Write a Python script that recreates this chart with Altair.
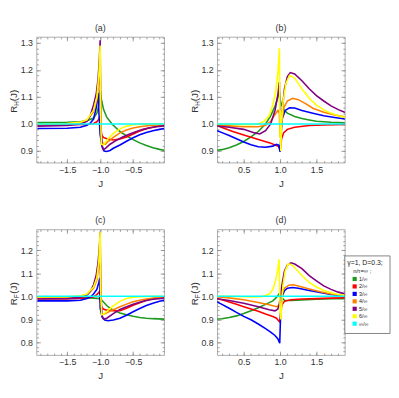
import altair as alt
import pandas as pd
import numpy as np

# ---------------- data ----------------
SERIES = ["1/∞", "2/∞", "3/∞", "4/∞", "5/∞", "6/∞", "∞/∞"]
COLORS = ["#1e9a1e", "#ff0000", "#0000ff", "#ff8000", "#800080", "#ffff00", "#00ffff"]
LEGEND_TITLE_1 = "γ=1, D=0.3;"
LEGEND_TITLE_2 = "n/τ=∞ ;"

# panel (a): R_H(J), J<0
a_green_j = [-1.95, -1.5, -1.3, -1.2, -1.1, -1.05, -1.02, -1.0, -0.98, -0.95, -0.9, -0.82, -0.7, -0.6, -0.5, -0.4, -0.3, -0.2, -0.1, -0.03]
a_green_r = [1.005, 1.006, 1.008, 1.012, 1.022, 1.04, 1.07, 1.125, 1.09, 1.055, 1.025, 1.0, 0.972, 0.956, 0.942, 0.93, 0.92, 0.912, 0.906, 0.903]
a_red_j = [-1.95, -1.5, -1.2, -1.1, -1.05, -1.02, -1.003, -0.995, -0.98, -0.95, -0.9, -0.8, -0.7, -0.6, -0.5, -0.4, -0.3, -0.2, -0.1, -0.03]
a_red_r = [0.997, 0.997, 0.998, 1.002, 1.008, 1.018, 1.028, 0.985, 0.96, 0.95, 0.945, 0.941, 0.944, 0.952, 0.963, 0.974, 0.982, 0.988, 0.993, 0.995]
a_blue_j = [-1.95, -1.5, -1.3, -1.2, -1.15, -1.1, -1.06, -1.04, -1.03, -1.02, -1.0, -0.97, -0.94, -0.9, -0.85, -0.8, -0.7, -0.6, -0.5, -0.4, -0.3, -0.2, -0.1, -0.03]
a_blue_r = [0.983, 0.984, 0.988, 0.995, 1.003, 1.018, 1.06, 1.1, 1.115, 1.05, 0.96, 0.915, 0.9, 0.898, 0.902, 0.91, 0.922, 0.936, 0.949, 0.96, 0.968, 0.975, 0.98, 0.983]
a_orange_j = [-1.95, -1.5, -1.3, -1.2, -1.1, -1.05, -1.02, -1.0, -0.99, -0.97, -0.95, -0.92, -0.88, -0.8, -0.7, -0.6, -0.5, -0.4, -0.25, -0.03]
a_orange_r = [1.0, 1.002, 1.006, 1.015, 1.045, 1.09, 1.15, 1.22, 1.0, 0.935, 0.925, 0.925, 0.935, 0.95, 0.967, 0.978, 0.985, 0.99, 0.994, 0.997]
a_purple_j = [-1.95, -1.5, -1.3, -1.2, -1.15, -1.1, -1.06, -1.03, -1.01, -1.0, -0.99, -0.97, -0.95, -0.92, -0.85, -0.75, -0.65, -0.55, -0.45, -0.35, -0.25, -0.15, -0.03]
a_purple_r = [0.992, 0.994, 1.0, 1.01, 1.03, 1.07, 1.11, 1.17, 1.25, 1.31, 1.0, 0.92, 0.905, 0.91, 0.925, 0.94, 0.953, 0.963, 0.972, 0.98, 0.986, 0.99, 0.993]
a_yellow_j = [-1.95, -1.5, -1.3, -1.2, -1.1, -1.05, -1.02, -1.0, -0.99, -0.98, -0.95, -0.9, -0.8, -0.7, -0.6, -0.5, -0.3, -0.03]
a_yellow_r = [1.0, 1.002, 1.006, 1.015, 1.05, 1.1, 1.18, 1.29, 1.0, 0.925, 0.922, 0.94, 0.965, 0.982, 0.992, 0.997, 1.0, 1.0]
a_cyan_j = [-1.95, -0.03]
a_cyan_r = [1.0, 1.0]

# panel (b): R_H(J), J>0
b_green_j = [0.12, 0.2, 0.3, 0.4, 0.5, 0.6, 0.7, 0.8, 0.87, 0.93, 0.97, 0.99, 1.0, 1.02, 1.06, 1.1, 1.2, 1.3, 1.4, 1.5, 1.7, 1.9]
b_green_r = [0.902, 0.905, 0.912, 0.922, 0.935, 0.952, 0.972, 1.0, 1.03, 1.065, 1.1, 1.12, 1.09, 1.07, 1.05, 1.04, 1.028, 1.02, 1.015, 1.01, 1.006, 1.004]
b_red_j = [0.12, 0.23, 0.35, 0.5, 0.68, 0.86, 0.98, 0.998, 1.005, 1.02, 1.05, 1.1, 1.2, 1.4, 1.6, 1.9]
b_red_r = [0.995, 0.984, 0.972, 0.959, 0.944, 0.93, 0.917, 0.905, 0.91, 0.945, 0.968, 0.98, 0.988, 0.994, 0.996, 0.998]
b_blue_j = [0.12, 0.2, 0.3, 0.4, 0.5, 0.6, 0.7, 0.8, 0.9, 0.95, 0.98, 1.0, 1.01, 1.03, 1.07, 1.13, 1.2, 1.3, 1.45, 1.6, 1.75, 1.9]
b_blue_r = [0.977, 0.968, 0.957, 0.945, 0.933, 0.923, 0.916, 0.914, 0.918, 0.925, 0.922, 0.897, 0.95, 1.02, 1.05, 1.06, 1.059, 1.05, 1.04, 1.03, 1.024, 1.018]
b_orange_j = [0.12, 0.3, 0.5, 0.7, 0.8, 0.87, 0.93, 0.97, 0.99, 1.0, 1.02, 1.05, 1.1, 1.17, 1.25, 1.35, 1.45, 1.6, 1.75, 1.9]
b_orange_r = [0.995, 0.993, 0.99, 0.99, 0.995, 1.01, 1.035, 1.05, 1.04, 0.95, 1.0, 1.06, 1.085, 1.095, 1.09, 1.075, 1.058, 1.043, 1.033, 1.026]
b_purple_j = [0.12, 0.3, 0.5, 0.65, 0.72, 0.8, 0.87, 0.93, 0.97, 0.99, 1.0, 1.01, 1.03, 1.06, 1.1, 1.14, 1.2, 1.3, 1.4, 1.5, 1.6, 1.7, 1.8, 1.9]
b_purple_r = [0.993, 0.988, 0.98, 0.967, 0.963, 0.975, 1.0, 1.05, 1.11, 1.155, 1.0, 0.96, 1.05, 1.13, 1.175, 1.19, 1.185, 1.16, 1.13, 1.105, 1.085, 1.067, 1.053, 1.042]
b_yellow_j = [0.12, 0.4, 0.6, 0.7, 0.78, 0.85, 0.9, 0.94, 0.97, 0.99, 0.995, 1.0, 1.005, 1.01, 1.02, 1.04, 1.08, 1.13, 1.2, 1.3, 1.4, 1.5, 1.6, 1.7, 1.8, 1.9]
b_yellow_r = [1.0, 0.998, 0.997, 1.0, 1.01, 1.03, 1.07, 1.12, 1.19, 1.28, 1.1, 0.95, 1.05, 0.9, 1.0, 1.08, 1.15, 1.18, 1.17, 1.13, 1.095, 1.07, 1.052, 1.04, 1.03, 1.024]
b_cyan_j = [0.12, 1.9]
b_cyan_r = [1.0, 1.0]

# panel (c): R_F(J), J<0
c_green_j = [-1.95, -1.5, -1.2, -1.1, -1.0, -0.95, -0.9, -0.85, -0.8, -0.7, -0.6, -0.5, -0.4, -0.3, -0.2, -0.03]
c_green_r = [0.997, 0.996, 0.994, 0.992, 0.99, 0.975, 0.96, 0.948, 0.94, 0.928, 0.92, 0.913, 0.908, 0.905, 0.903, 0.901]
c_red_j = [-1.95, -1.5, -1.2, -1.1, -1.05, -1.02, -1.005, -1.0, -0.98, -0.95, -0.9, -0.8, -0.7, -0.6, -0.5, -0.4, -0.3, -0.2, -0.03]
c_red_r = [0.99, 0.99, 0.992, 0.998, 1.007, 1.017, 1.022, 0.98, 0.955, 0.945, 0.94, 0.937, 0.937, 0.948, 0.961, 0.972, 0.983, 0.99, 0.996]
c_blue_j = [-1.95, -1.5, -1.3, -1.2, -1.15, -1.1, -1.05, -1.02, -1.005, -1.0, -0.97, -0.93, -0.88, -0.8, -0.7, -0.6, -0.5, -0.4, -0.3, -0.2, -0.1, -0.03]
c_blue_r = [0.98, 0.98, 0.983, 0.99, 0.997, 1.01, 1.03, 1.06, 1.08, 0.95, 0.91, 0.897, 0.894, 0.897, 0.905, 0.918, 0.933, 0.947, 0.96, 0.97, 0.978, 0.983]
c_orange_j = [-1.95, -1.5, -1.3, -1.2, -1.1, -1.05, -1.02, -1.0, -0.99, -0.97, -0.95, -0.9, -0.8, -0.7, -0.6, -0.5, -0.4, -0.3, -0.15, -0.03]
c_orange_r = [0.995, 0.996, 1.0, 1.008, 1.035, 1.07, 1.13, 1.2, 1.0, 0.925, 0.922, 0.928, 0.942, 0.955, 0.966, 0.976, 0.983, 0.988, 0.993, 0.995]
c_purple_j = [-1.95, -1.5, -1.3, -1.2, -1.15, -1.1, -1.06, -1.03, -1.01, -1.0, -0.99, -0.97, -0.95, -0.9, -0.8, -0.7, -0.6, -0.5, -0.4, -0.3, -0.2, -0.03]
c_purple_r = [0.988, 0.99, 0.995, 1.005, 1.02, 1.05, 1.09, 1.15, 1.22, 1.28, 1.0, 0.915, 0.901, 0.905, 0.925, 0.943, 0.955, 0.965, 0.974, 0.982, 0.987, 0.992]
c_yellow_j = [-1.95, -1.5, -1.3, -1.2, -1.1, -1.05, -1.02, -1.0, -0.99, -0.975, -0.95, -0.9, -0.8, -0.7, -0.6, -0.5, -0.3, -0.03]
c_yellow_r = [0.997, 0.998, 1.002, 1.01, 1.04, 1.08, 1.15, 1.28, 1.0, 0.92, 0.922, 0.935, 0.958, 0.978, 0.99, 0.996, 0.999, 1.0]
c_cyan_j = [-1.95, -0.03]
c_cyan_r = [1.0, 1.0]

# panel (d): R_F(J), J>0
d_green_j = [0.12, 0.2, 0.3, 0.4, 0.5, 0.6, 0.7, 0.8, 0.9, 0.95, 0.99, 1.0, 1.02, 1.06, 1.15, 1.3, 1.5, 1.7, 1.9]
d_green_r = [0.901, 0.903, 0.908, 0.915, 0.925, 0.937, 0.95, 0.965, 0.98, 0.995, 1.012, 1.01, 0.995, 0.983, 0.982, 0.984, 0.987, 0.989, 0.99]
d_red_j = [0.12, 0.2, 0.3, 0.4, 0.5, 0.6, 0.7, 0.8, 0.9, 0.95, 0.99, 1.0, 1.01, 1.03, 1.06, 1.15, 1.3, 1.5, 1.7, 1.9]
d_red_r = [0.99, 0.985, 0.975, 0.965, 0.955, 0.945, 0.935, 0.923, 0.912, 0.905, 0.89, 0.9, 0.94, 0.965, 0.978, 0.985, 0.988, 0.99, 0.992, 0.994]
d_blue_j = [0.12, 0.2, 0.3, 0.4, 0.5, 0.6, 0.7, 0.8, 0.87, 0.93, 0.97, 0.995, 1.0, 1.01, 1.03, 1.06, 1.1, 1.17, 1.25, 1.4, 1.55, 1.7, 1.9]
d_blue_r = [0.978, 0.965, 0.948, 0.93, 0.913, 0.898, 0.88, 0.86, 0.845, 0.83, 0.815, 0.797, 0.85, 0.95, 1.0, 1.025, 1.035, 1.038, 1.035, 1.025, 1.016, 1.008, 1.0]
d_orange_j = [0.12, 0.3, 0.5, 0.7, 0.85, 0.95, 0.99, 1.0, 1.02, 1.06, 1.12, 1.18, 1.25, 1.4, 1.55, 1.7, 1.9]
d_orange_r = [0.998, 0.993, 0.985, 0.973, 0.963, 0.955, 0.96, 0.98, 1.01, 1.035, 1.048, 1.05, 1.045, 1.032, 1.02, 1.01, 1.003]
d_purple_j = [0.12, 0.3, 0.5, 0.7, 0.85, 0.93, 0.97, 0.99, 1.0, 1.02, 1.06, 1.1, 1.15, 1.2, 1.3, 1.4, 1.5, 1.6, 1.7, 1.8, 1.9]
d_purple_r = [0.99, 0.982, 0.97, 0.955, 0.942, 0.937, 0.945, 0.97, 0.99, 1.04, 1.11, 1.135, 1.145, 1.14, 1.12, 1.09, 1.067, 1.045, 1.03, 1.018, 1.01]
d_yellow_j = [0.12, 0.4, 0.6, 0.75, 0.85, 0.9, 0.94, 0.97, 0.985, 0.99, 1.0, 1.01, 1.02, 1.04, 1.07, 1.11, 1.15, 1.2, 1.3, 1.4, 1.5, 1.6, 1.7, 1.8, 1.9]
d_yellow_r = [1.0, 0.999, 0.997, 0.998, 1.01, 1.03, 1.07, 1.12, 1.16, 1.1, 0.95, 0.9, 0.95, 1.05, 1.11, 1.14, 1.138, 1.125, 1.09, 1.06, 1.04, 1.025, 1.015, 1.008, 1.004]
d_cyan_j = [0.12, 1.9]
d_cyan_r = [1.0, 1.0]

# axis ticks
X_NEG_TICKS = [-1.5, -1.0, -0.5]
X_POS_TICKS = [0.5, 1.0, 1.5]
Y_TOP_TICKS = [0.9, 1.0, 1.1, 1.2, 1.3]
Y_BOT_TICKS = [0.8, 0.9, 1.0, 1.1, 1.2]

X_NEG_DOM = [-1.965, -0.03]
X_POS_DOM = [0.135, 1.89]
Y_TOP_DOM = [0.857, 1.322]
Y_BOT_DOM = [0.745, 1.29]


def build(prefix):
    g = globals()
    parts = []
    for name, lab in zip(["green", "red", "blue", "orange", "purple", "yellow", "cyan"], SERIES):
        js = g[f"{prefix}_{name}_j"]
        rs = g[f"{prefix}_{name}_r"]
        parts.append(pd.DataFrame({"J": js, "R": rs, "series": lab}))
    return pd.concat(parts, ignore_index=True)


def minor(dom, step):
    vals = np.round(np.arange(np.ceil(dom[0] / step) * step, dom[1] + 1e-9, step), 3)
    return [float(v) for v in vals if dom[0] <= v <= dom[1]]


W, H = 130, 128
FONT = "Liberation Sans"
TICK_COL = "#888888"
LAB_COL = "#333333"

color_scale = alt.Scale(domain=SERIES, range=COLORS)


def legend_layers():
    """Mathematica-style framed legend, drawn to the right of panel (d)."""
    one = pd.DataFrame({"k": [0]})
    ent = pd.DataFrame({"series": SERIES})
    box = alt.Chart(one).mark_rect(fill="white", stroke="#666666", strokeWidth=0.8).encode(
        x=alt.value(130), x2=alt.value(176), y=alt.value(27), y2=alt.value(106))
    t1 = alt.Chart(one).mark_text(text=LEGEND_TITLE_1, align="left", baseline="middle",
                                  fontSize=7, font=FONT, color="#222").encode(
        x=alt.value(132.5), y=alt.value(34.5))
    t2 = alt.Chart(one).mark_text(text=LEGEND_TITLE_2, align="left", baseline="middle",
                                  fontSize=6, font=FONT, color="#222").encode(
        x=alt.value(138.5), y=alt.value(42))
    ypos = alt.Y("series:N", sort=SERIES,
                 scale=alt.Scale(domain=SERIES, range=[50.5, 96], padding=0), axis=None)
    sq = alt.Chart(ent).mark_square(size=18, opacity=1, filled=True).encode(
        x=alt.value(140), y=ypos,
        color=alt.Color("series:N", scale=color_scale, legend=None))
    lab = alt.Chart(ent).mark_text(align="left", baseline="middle", fontSize=5.5,
                                   font=FONT, color="#222").encode(
        x=alt.value(144.5), y=ypos, text="series:N")
    return [box, t1, t2, sq, lab]


def panel(prefix, xdom, ydom, xt, yt, title, sub, extra=()):
    df = build(prefix)
    xs = alt.Scale(domain=xdom, nice=False, zero=False)
    ys = alt.Scale(domain=ydom, nice=False, zero=False)
    xmin = minor(xdom, 0.1)
    ymin = minor(ydom, 0.02)

    lines = alt.Chart(df).mark_line(strokeWidth=1.6, clip=True).encode(
        x=alt.X("J:Q", scale=xs, axis=alt.Axis(
            values=xt, format=".1f", tickSize=0, domain=False, grid=False,
            labelFontSize=9, labelFont=FONT, labelColor=LAB_COL, labelPadding=3,
            title="J", titleFont=FONT, titleFontSize=10, titleFontWeight="normal",
            titleColor=LAB_COL, titlePadding=4)),
        y=alt.Y("R:Q", scale=ys, axis=alt.Axis(
            values=yt, format=".1f", tickSize=0, domain=False, grid=False,
            labelFontSize=9, labelFont=FONT, labelColor=LAB_COL, labelPadding=4,
            title=None)),
        color=alt.Color("series:N", scale=color_scale, legend=None),
    )

    def ticks(ox, oy, xv, yv, size):
        return alt.Chart(df).mark_point(opacity=0).encode(
            x=alt.X("J:Q", scale=xs, axis=alt.Axis(
                orient=ox, values=xv, labels=False, tickSize=size, offset=-size,
                domain=False, grid=False, title=None, tickColor=TICK_COL, tickWidth=0.8)),
            y=alt.Y("R:Q", scale=ys, axis=alt.Axis(
                orient=oy, values=yv, labels=False, tickSize=size, offset=-size,
                domain=False, grid=False, title=None, tickColor=TICK_COL, tickWidth=0.8)),
        )

    one = pd.DataFrame({"k": [0]})
    yc = H / 2
    t_r = alt.Chart(one).mark_text(text="R", angle=270, align="right", baseline="middle",
                                   fontSize=10, font=FONT, color=LAB_COL).encode(
        x=alt.value(-23), y=alt.value(yc + 6))
    t_s = alt.Chart(one).mark_text(text=sub, angle=270, align="left", baseline="middle",
                                   fontSize=6.5, font=FONT, color=LAB_COL).encode(
        x=alt.value(-20), y=alt.value(yc + 6))
    t_j = alt.Chart(one).mark_text(text="(J)", angle=270, align="left", baseline="middle",
                                   fontSize=10, font=FONT, color=LAB_COL).encode(
        x=alt.value(-23), y=alt.value(yc + 1.5))

    ch = alt.layer(
        ticks("bottom", "left", xt, yt, 4),
        ticks("top", "right", xt, yt, 4),
        ticks("bottom", "left", xmin, ymin, 2),
        ticks("top", "right", xmin, ymin, 2),
        lines, t_r, t_s, t_j, *extra,
    ).resolve_axis(x="independent", y="independent").resolve_scale(
        y="independent").properties(
        width=W, height=H,
        title=alt.TitleParams(title, fontSize=9, fontWeight="normal", font=FONT,
                              color=LAB_COL, offset=4),
    )
    return ch


pa = panel("a", X_NEG_DOM, Y_TOP_DOM, X_NEG_TICKS, Y_TOP_TICKS, "(a)", "H")
pb = panel("b", X_POS_DOM, Y_TOP_DOM, X_POS_TICKS, Y_TOP_TICKS, "(b)", "H")
pc = panel("c", X_NEG_DOM, Y_BOT_DOM, X_NEG_TICKS, Y_BOT_TICKS, "(c)", "F")
pd_ = panel("d", X_POS_DOM, Y_BOT_DOM, X_POS_TICKS, Y_BOT_TICKS, "(d)", "F",
            extra=legend_layers())

chart = alt.concat(
    pa, pb, pc, pd_, columns=2, bounds="flush",
    spacing=alt.RowColnumber(row=68, column=54),
).properties(
    padding={"left": 0, "top": 12, "right": 0, "bottom": 0},
    background="white",
).configure_view(stroke="#999999", strokeWidth=0.8)

chart.save("out.html", embed_options={"renderer": "svg", "actions": False})
